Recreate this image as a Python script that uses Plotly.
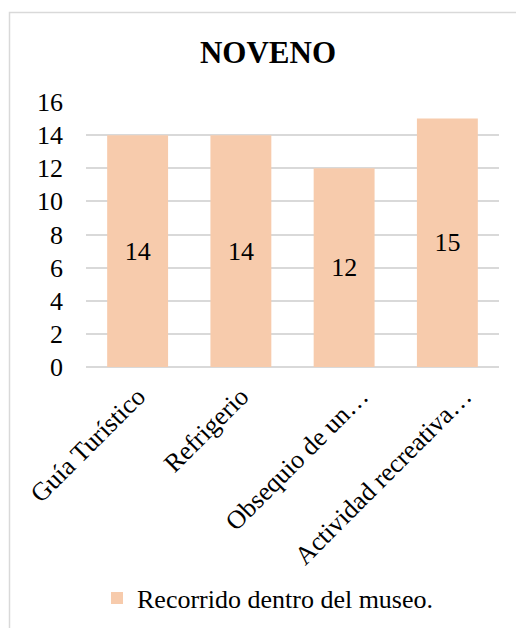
import plotly.graph_objects as go

categories = ["Guía Turístico", "Refrigerio", "Obsequio de un…", "Actividad recreativa…"]
values = [14, 14, 12, 15]
series_name = "Recorrido dentro del museo."
title_text = "NOVENO"
y_ticks = [0, 2, 4, 6, 8, 10, 12, 14, 16]

FONT = "'Times New Roman', 'Liberation Serif', 'DejaVu Serif', serif"
BAR_COLOR = "#F7CBAC"
GRID = "#D9D9D9"

OFF = 8  # default page body margin
W, H = 524 - OFF, 628 - OFF
L, R, T, B = 86 - OFF, 25, 102 - OFF, 261
pw = W - L - R
ph = H - T - B

positions = list(range(len(categories)))
# truncated labels (with ellipsis) sit a little further right, as in the original
label_pos = [p + (0.16 if c.endswith("…") else 0.0) for p, c in zip(positions, categories)]

fig = go.Figure()
fig.add_trace(go.Bar(
    x=positions, y=values, name=series_name,
    marker=dict(color=BAR_COLOR, line=dict(width=0)),
    text=[str(v) for v in values], textposition="inside",
    insidetextanchor="middle", textangle=0,
    textfont=dict(family=FONT, size=26, color="black"),
    hovertext=categories,
    showlegend=True,
))

fig.update_layout(
    width=W, height=H,
    margin=dict(l=L, r=R, t=T, b=B, autoexpand=False),
    paper_bgcolor="white", plot_bgcolor="white",
    font=dict(family=FONT, size=26, color="black"),
    title=dict(text="<b>" + title_text + "</b>", x=(268 - OFF) / W, xanchor="center",
               y=1 - (52 - OFF) / H, yanchor="middle",
               font=dict(family=FONT, size=31, color="black")),
    bargap=0.41,
    showlegend=True,
    legend=dict(orientation="h", x=(268 - 86) / pw, xanchor="center",
                y=(367 - 598) / ph, yanchor="middle",
                font=dict(family=FONT, size=26, color="black"),
                bgcolor="rgba(0,0,0,0)", itemwidth=30),
    xaxis=dict(type="linear", range=[-0.5, len(categories) - 0.5],
               tickmode="array", tickvals=label_pos, ticktext=categories,
               tickangle=-45, showgrid=False, showline=False, zeroline=False, ticks="",
               tickfont=dict(family=FONT, size=26, color="black"),
               ticklabelstandoff=8),
    yaxis=dict(range=[0, 16], tickvals=y_ticks, showgrid=True, gridcolor=GRID,
               gridwidth=1.5, zeroline=True, zerolinecolor=GRID, zerolinewidth=1.5,
               showline=False, ticks="",
               tickfont=dict(family=FONT, size=26, color="black"),
               ticklabelstandoff=22),
    shapes=[dict(type="rect", xref="paper", yref="paper",
                 x0=(9.5 - 86) / pw, x1=2.0,
                 y0=-2.0, y1=(367 - 12.5) / ph,
                 line=dict(color=GRID, width=1.5), fillcolor="rgba(0,0,0,0)",
                 layer="below")],
)

fig.write_html("out.html")
